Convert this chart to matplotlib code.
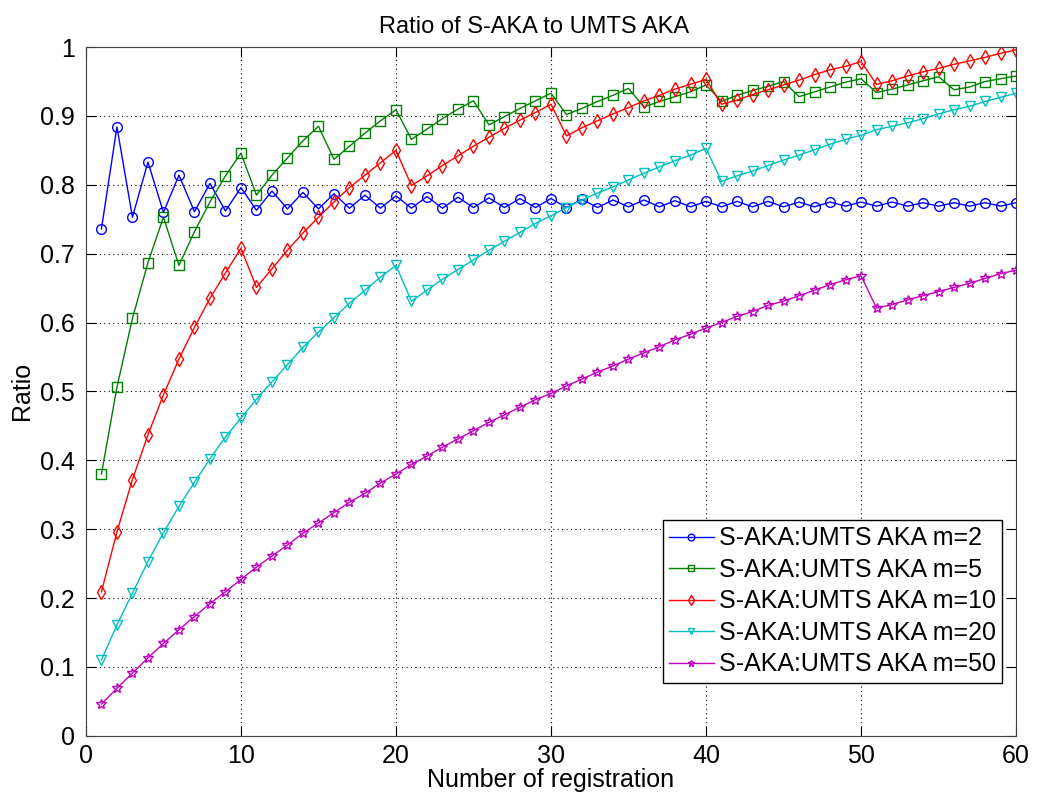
import numpy as np
import matplotlib
matplotlib.use('Agg')
import matplotlib.pyplot as plt

plt.rcParams['font.family'] = ['Liberation Sans', 'DejaVu Sans']

# number of registrations
n = np.arange(1, 61)

# ratio values
m2 = [0.736, 0.884, 0.753, 0.833, 0.760, 0.814, 0.761, 0.802, 0.762, 0.796,
      0.763, 0.791, 0.765, 0.789, 0.765, 0.787, 0.766, 0.785, 0.766, 0.784,
      0.766, 0.783, 0.766, 0.782, 0.767, 0.781, 0.767, 0.780, 0.767, 0.780,
      0.767, 0.779, 0.767, 0.778, 0.768, 0.778, 0.768, 0.777, 0.768, 0.776,
      0.768, 0.776, 0.768, 0.776, 0.768, 0.775, 0.768, 0.775, 0.769, 0.775,
      0.769, 0.775, 0.769, 0.774, 0.769, 0.774, 0.769, 0.774, 0.769, 0.774]

m5 = [0.380, 0.506, 0.606, 0.687, 0.753, 0.683, 0.732, 0.775, 0.813, 0.846,
      0.785, 0.814, 0.839, 0.864, 0.885, 0.837, 0.856, 0.875, 0.893, 0.909,
      0.866, 0.881, 0.896, 0.910, 0.922, 0.887, 0.899, 0.911, 0.922, 0.933,
      0.902, 0.911, 0.921, 0.930, 0.940, 0.913, 0.921, 0.928, 0.935, 0.945,
      0.921, 0.930, 0.937, 0.943, 0.950, 0.928, 0.935, 0.942, 0.949, 0.954,
      0.934, 0.939, 0.945, 0.951, 0.957, 0.938, 0.942, 0.950, 0.954, 0.958]

m10 = [0.209, 0.296, 0.372, 0.437, 0.495, 0.547, 0.593, 0.635, 0.672, 0.708,
       0.651, 0.678, 0.705, 0.730, 0.753, 0.775, 0.796, 0.814, 0.832, 0.850,
       0.799, 0.813, 0.828, 0.842, 0.856, 0.869, 0.882, 0.894, 0.905, 0.917,
       0.871, 0.883, 0.893, 0.903, 0.912, 0.922, 0.930, 0.939, 0.946, 0.953,
       0.917, 0.923, 0.931, 0.938, 0.945, 0.952, 0.960, 0.967, 0.972, 0.979,
       0.946, 0.951, 0.958, 0.964, 0.969, 0.975, 0.980, 0.985, 0.991, 0.996]

m20 = [0.110, 0.161, 0.207, 0.253, 0.295, 0.333, 0.368, 0.402, 0.434, 0.461,
       0.489, 0.514, 0.539, 0.564, 0.586, 0.607, 0.628, 0.647, 0.666, 0.683,
       0.631, 0.647, 0.663, 0.677, 0.691, 0.705, 0.718, 0.731, 0.744, 0.755,
       0.767, 0.778, 0.788, 0.797, 0.807, 0.817, 0.826, 0.835, 0.843, 0.853,
       0.805, 0.813, 0.820, 0.828, 0.836, 0.843, 0.851, 0.859, 0.866, 0.872,
       0.880, 0.885, 0.890, 0.896, 0.903, 0.909, 0.914, 0.921, 0.927, 0.933]

m50 = [0.046, 0.069, 0.091, 0.113, 0.134, 0.154, 0.173, 0.192, 0.209, 0.227,
       0.245, 0.261, 0.277, 0.294, 0.309, 0.324, 0.339, 0.352, 0.367, 0.380,
       0.394, 0.406, 0.419, 0.431, 0.443, 0.455, 0.466, 0.477, 0.488, 0.497,
       0.508, 0.518, 0.528, 0.537, 0.547, 0.556, 0.565, 0.575, 0.583, 0.592,
       0.600, 0.609, 0.616, 0.625, 0.631, 0.639, 0.647, 0.655, 0.662, 0.668,
       0.621, 0.626, 0.633, 0.639, 0.645, 0.651, 0.657, 0.664, 0.671, 0.676]

labels = ['S-AKA:UMTS AKA m=2', 'S-AKA:UMTS AKA m=5', 'S-AKA:UMTS AKA m=10',
          'S-AKA:UMTS AKA m=20', 'S-AKA:UMTS AKA m=50']

fig = plt.figure(figsize=(10.48, 7.98), dpi=100)
ax = fig.add_axes([0.082, 0.078, 0.8875, 0.863])

ax.plot(n, m2, '-o', color='#0000ff', mfc='none', ms=7, lw=1, label=labels[0])
ax.plot(n, m5, '-s', color='#008000', mfc='none', ms=7, lw=1, label=labels[1])
ax.plot(n, m10, '-d', color='#ff0000', mfc='none', ms=7, lw=1, label=labels[2])
ax.plot(n, m20, '-v', color='#00bfbf', mfc='none', ms=7, lw=1, label=labels[3])
ax.plot(n, m50, '-*', color='#bf00bf', mfc='none', ms=7, lw=1, label=labels[4])

ax.set_xlim(0, 60)
ax.set_ylim(0, 1)
ax.set_xticks(np.arange(0, 61, 10))
ax.set_yticks(np.arange(0, 1.01, 0.1))
ax.set_yticklabels(['0', '0.1', '0.2', '0.3', '0.4', '0.5', '0.6', '0.7', '0.8', '0.9', '1'])
ax.grid(True, linestyle=(0, (1, 3)), color='k', linewidth=0.8)
ax.tick_params(direction='in', top=True, right=True, labelsize=18, length=7)
ax.tick_params(axis='y', pad=8)
ax.tick_params(axis='x', pad=6)
for s in ax.spines.values():
    s.set_color('#404040')

ax.set_title('Ratio of S-AKA to UMTS AKA', fontsize=17, pad=10, x=0.482)
ax.set_xlabel('Number of registration', fontsize=18, labelpad=0)
ax.set_ylabel('Ratio', fontsize=18, labelpad=4)

legend = ax.legend(loc='lower right', bbox_to_anchor=(0.985, 0.077), fontsize=18,
                   fancybox=False, edgecolor='k', framealpha=1, handlelength=1.8,
                   markerscale=0.7, borderpad=0.25, labelspacing=0.3,
                   handletextpad=0.2, borderaxespad=0)
legend.get_frame().set_linewidth(1)

fig.savefig('out.png', dpi=100)
